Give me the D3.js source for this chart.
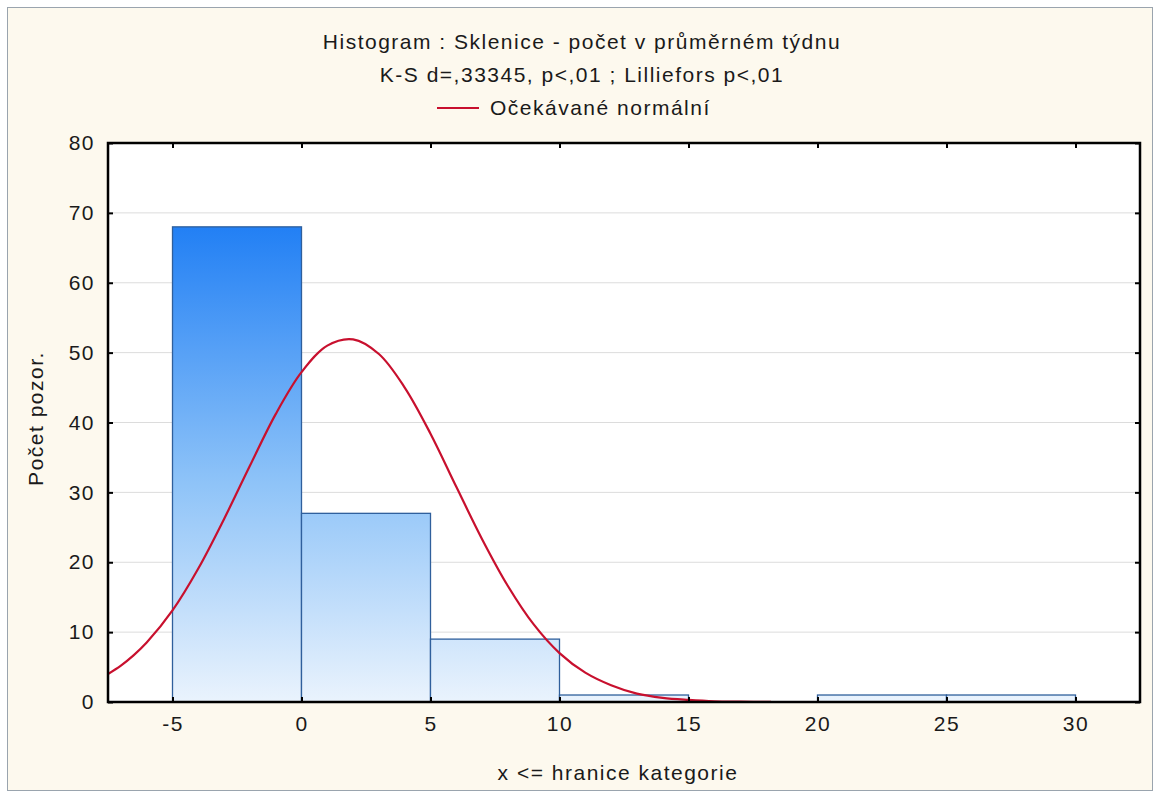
<!DOCTYPE html>
<html>
<head>
<meta charset="utf-8">
<script src="https://cdn.jsdelivr.net/npm/d3@7"></script>
<style>
  body { margin: 0; background: #fff; }
  text { font-family: "Liberation Sans", Arial, sans-serif; fill: #1a1a1a; }
</style>
</head>
<body>
<div class="chart"></div>
<script>
var svgWidth = 1158;
var svgHeight = 794;

// histogram bins (upper bounds) and counts
var binStart = [-5, 0, 5, 10, 15, 20, 25];
var binEnd = [0, 5, 10, 15, 20, 25, 30];
var counts = [68, 27, 9, 1, 0, 1, 1];

// expected normal curve
var curveX = [-7.5, -7, -6.5, -6, -5, -4, -3, -2, -1, 0, 1, 2, 3, 4, 5, 6, 7, 8, 9, 10, 11, 12, 13, 14, 15, 16, 17, 18.2];
var curveY = [4.0, 5.2, 6.7, 8.5, 13.1, 19.1, 26.2, 33.8, 41.2, 47.2, 51.0, 51.9, 49.8, 45.0, 38.4, 30.8, 23.3, 16.6, 11.1, 7.0, 4.2, 2.4, 1.2, 0.6, 0.3, 0.1, 0.05, 0.02];

var xTicks = [-5, 0, 5, 10, 15, 20, 25, 30];
var yTicks = [0, 10, 20, 30, 40, 50, 60, 70, 80];

var FONT = 21;
var SPACING = '1.5px';

var margin = { top: 143, right: 18, bottom: 92, left: 108 };
var width = svgWidth - margin.left - margin.right;
var height = svgHeight - margin.top - margin.bottom;

var svg = d3.select('.chart')
  .append('svg')
  .attr('width', svgWidth)
  .attr('height', svgHeight);

// outer frame (cream panel)
svg.append('rect')
  .attr('x', 7.5).attr('y', 7.5)
  .attr('width', svgWidth - 13).attr('height', svgHeight - 11)
  .attr('fill', '#fdf9ee')
  .attr('stroke', '#9aa4ae')
  .attr('stroke-width', 1);

var defs = svg.append('defs');
var grad = defs.append('linearGradient')
  .attr('id', 'barGrad')
  .attr('gradientUnits', 'userSpaceOnUse')
  .attr('x1', 0).attr('x2', 0);

var chart = svg.append('g')
  .attr('transform', 'translate(' + margin.left + ',' + margin.top + ')');

var xScale = d3.scaleLinear().domain([-7.5, 32.5]).range([0, width]);
var yScale = d3.scaleLinear().domain([0, 80]).range([height, 0]);

grad.attr('y1', yScale(70)).attr('y2', yScale(0));
grad.append('stop').attr('offset', '0%').attr('stop-color', '#1c7cf4');
grad.append('stop').attr('offset', '55%').attr('stop-color', '#8ec3f8');
grad.append('stop').attr('offset', '100%').attr('stop-color', '#eaf3fd');

chart.append('rect')
  .attr('width', width).attr('height', height)
  .attr('fill', '#fff');

// horizontal grid
chart.append('g')
  .selectAll('line')
  .data(yTicks.slice(1, -1))
  .enter()
  .append('line')
  .attr('x1', 0).attr('x2', width)
  .attr('y1', function(d) { return yScale(d); })
  .attr('y2', function(d) { return yScale(d); })
  .attr('stroke', '#dcdcdc')
  .attr('stroke-width', 1);

var bins = counts.map(function(c, i) {
  return { x0: binStart[i], x1: binEnd[i], n: c };
}).filter(function(d) { return d.n > 0; });

chart.selectAll('.bar')
  .data(bins)
  .enter()
  .append('rect')
  .attr('class', 'bar')
  .attr('x', function(d) { return xScale(d.x0); })
  .attr('y', function(d) { return yScale(d.n); })
  .attr('width', function(d) { return xScale(d.x1) - xScale(d.x0); })
  .attr('height', function(d) { return yScale(0) - yScale(d.n); })
  .attr('fill', 'url(#barGrad)')
  .attr('stroke', '#2f5f9c')
  .attr('stroke-width', 1.3);

var pts = curveX.map(function(x, i) { return [x, curveY[i]]; });
var line = d3.line()
  .x(function(d) { return xScale(d[0]); })
  .y(function(d) { return yScale(d[1]); })
  .curve(d3.curveCatmullRom.alpha(0.5));

chart.append('path')
  .datum(pts)
  .attr('d', line)
  .attr('fill', 'none')
  .attr('stroke', '#c8102e')
  .attr('stroke-width', 2.2);

// axes
var bottomAxis = d3.axisBottom(xScale).tickValues(xTicks).tickSize(-5).tickPadding(14)
  .tickFormat(function(d) { return String(d); });
var topAxis = d3.axisTop(xScale).tickValues(xTicks).tickSize(-5).tickFormat('');
var leftAxis = d3.axisLeft(yScale).tickValues(yTicks).tickSize(-5).tickPadding(13);
var rightAxis = d3.axisRight(yScale).tickValues(yTicks).tickSize(-5).tickFormat('');

function styleAxis(g) {
  g.select('.domain').remove();
  g.selectAll('.tick line').attr('stroke', '#000').attr('stroke-width', 2);
  g.selectAll('.tick text').attr('font-size', FONT).attr('fill', '#222')
    .attr('font-family', '"Liberation Sans", Arial, sans-serif')
    .style('letter-spacing', SPACING);
}

chart.append('g').attr('transform', 'translate(0,' + height + ')').call(bottomAxis).call(styleAxis);
chart.append('g').call(topAxis).call(styleAxis);
chart.append('g').call(leftAxis).call(styleAxis);
chart.append('g').attr('transform', 'translate(' + width + ',0)').call(rightAxis).call(styleAxis);

chart.append('rect')
  .attr('width', width).attr('height', height)
  .attr('fill', 'none')
  .attr('stroke', '#000')
  .attr('stroke-width', 2.5);

// titles
function label(x, y, s, anchor) {
  return svg.append('text')
    .attr('x', x).attr('y', y)
    .attr('text-anchor', anchor || 'middle')
    .attr('font-size', FONT)
    .style('letter-spacing', SPACING)
    .text(s);
}

label(582, 49, 'Histogram : Sklenice - počet v průměrném týdnu');
label(582, 82, 'K-S d=,33345, p<,01 ; Lilliefors p<,01');

svg.append('line')
  .attr('x1', 437).attr('x2', 479)
  .attr('y1', 108).attr('y2', 108)
  .attr('stroke', '#c8102e').attr('stroke-width', 2.2);

label(490, 115, 'Očekávané normální', 'start');

svg.append('text')
  .attr('transform', 'translate(43,' + (margin.top + height / 2 - 4) + ') rotate(-90)')
  .attr('text-anchor', 'middle')
  .attr('font-size', FONT)
  .style('letter-spacing', SPACING)
  .text('Počet pozor.');

label(618, 780, 'x <= hranice kategorie');
</script>
</body>
</html>
